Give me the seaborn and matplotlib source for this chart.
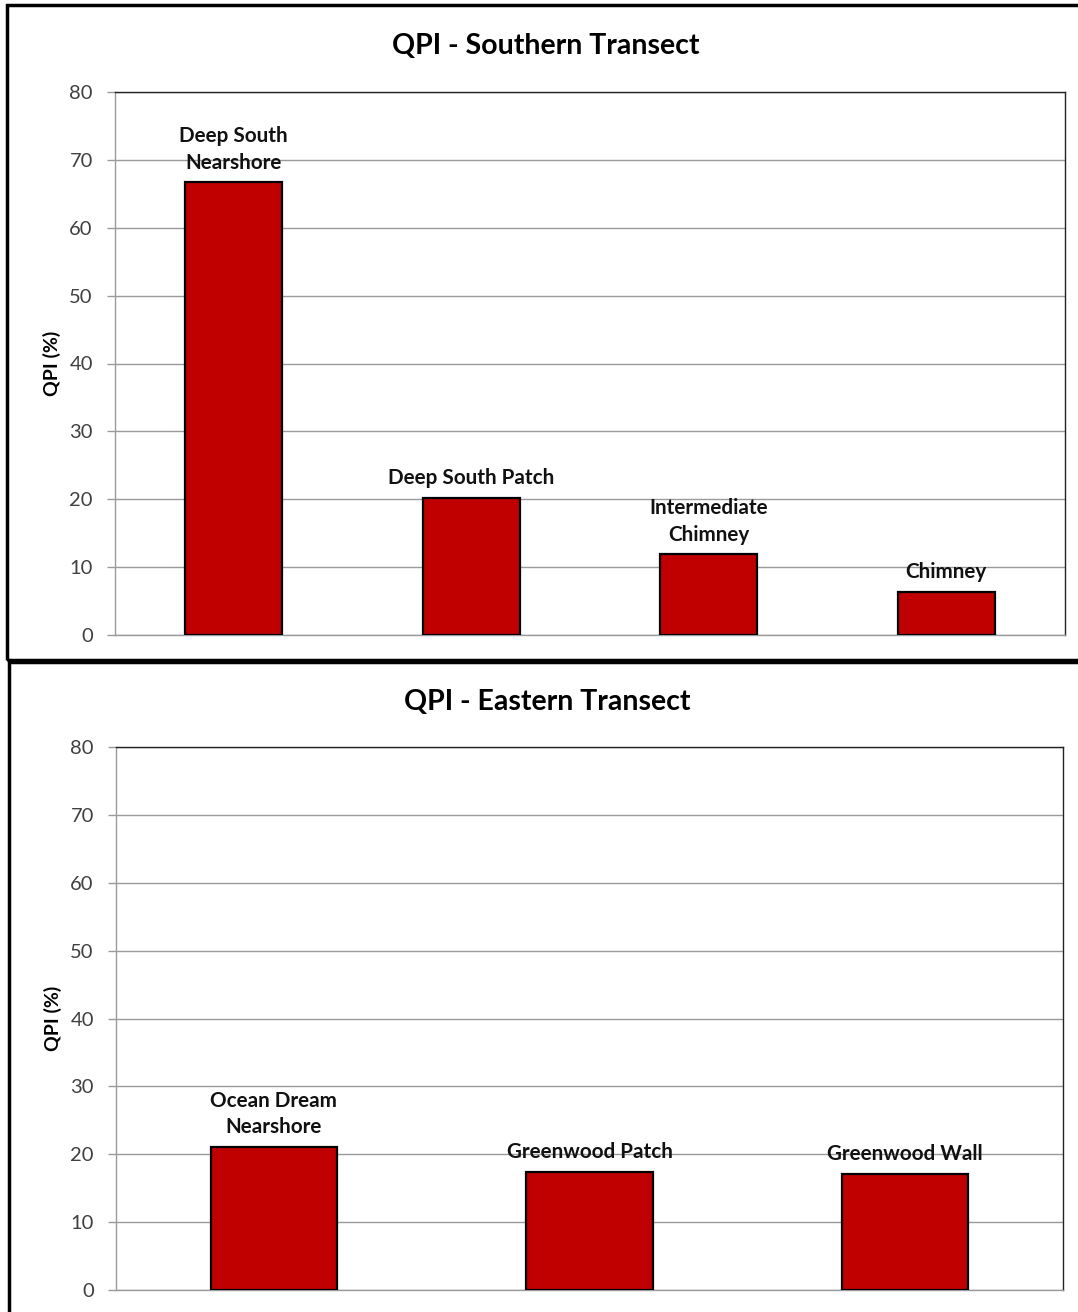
import matplotlib
matplotlib.use("Agg")
import matplotlib.pyplot as plt
import seaborn as sns
import pandas as pd
from matplotlib.patches import Rectangle

# Southern transect sites and QPI values (%)
south_sites = ["Deep South\nNearshore", "Deep South Patch", "Intermediate\nChimney", "Chimney"]
south_qpi = [66.7, 20.2, 11.9, 6.4]

# Eastern transect sites and QPI values (%)
east_sites = ["Ocean Dream\nNearshore", "Greenwood Patch", "Greenwood Wall"]
east_qpi = [21.1, 17.4, 17.1]

y_ticks = [0, 10, 20, 30, 40, 50, 60, 70, 80]

sns.set_theme(style="white")
plt.rcParams["font.family"] = ["Lato", "DejaVu Sans"]

BAR = "#C00000"
GRID = "#9a9a9a"
TICK = "#404040"

fig = plt.figure(figsize=(10.78, 13.12), dpi=100)

# panel frames
fig.patches.append(Rectangle((7 / 1078, 652 / 1312), 1.1, 655 / 1312, transform=fig.transFigure,
                             fill=False, edgecolor="black", linewidth=2.5, zorder=0))
fig.patches.append(Rectangle((9 / 1078, -0.05), 1.1, 650 / 1312 + 0.05, transform=fig.transFigure,
                             fill=False, edgecolor="black", linewidth=2.5, zorder=0))


def draw(ax, sites, values, title, width, title_x, title_y):
    df = pd.DataFrame({"site": sites, "qpi": values})
    sns.barplot(data=df, x="site", y="qpi", ax=ax, color=BAR, saturation=1,
                width=width, edgecolor="black", linewidth=1.6, zorder=3)
    ax.set_ylim(0, 80)
    ax.set_yticks(y_ticks)
    ax.set_xlim(-0.5, len(sites) - 0.5)
    ax.yaxis.grid(True, color=GRID, linewidth=1.0, zorder=0)
    ax.set_axisbelow(True)
    ax.set_xticks([])
    ax.set_xlabel("")
    ax.set_ylabel("QPI (%)", fontsize=14, fontweight="bold", color="black", labelpad=6)
    ax.tick_params(axis="y", left=True, length=6, width=1, color=GRID,
                   labelsize=14.5, labelcolor=TICK, pad=10)
    for side in ("left", "bottom"):
        ax.spines[side].set_color(GRID)
        ax.spines[side].set_linewidth(1.0)
    for side in ("top", "right"):
        ax.spines[side].set_color("#222222")
        ax.spines[side].set_linewidth(1.0)
    for i, (s, v) in enumerate(zip(sites, values)):
        ax.annotate(s, xy=(i, v), xytext=(0, 7), textcoords="offset points",
                    ha="center", va="bottom", fontsize=14.9, fontweight="bold",
                    color="#111111", linespacing=1.4, zorder=4)
    fig.text(title_x, title_y, title, ha="center", va="center",
             fontsize=20.5, fontweight="bold", color="black")


ax1 = fig.add_axes([115 / 1078, 677 / 1312, 950 / 1078, 543 / 1312])
draw(ax1, south_sites, south_qpi, "QPI - Southern Transect", 0.41, 546 / 1078, 1 - 46 / 1312)

ax2 = fig.add_axes([116 / 1078, 22 / 1312, 947 / 1078, 543 / 1312])
draw(ax2, east_sites, east_qpi, "QPI - Eastern Transect", 0.40, 547 / 1078, 1 - 702 / 1312)

fig.savefig("out.png", dpi=100, facecolor="white")
